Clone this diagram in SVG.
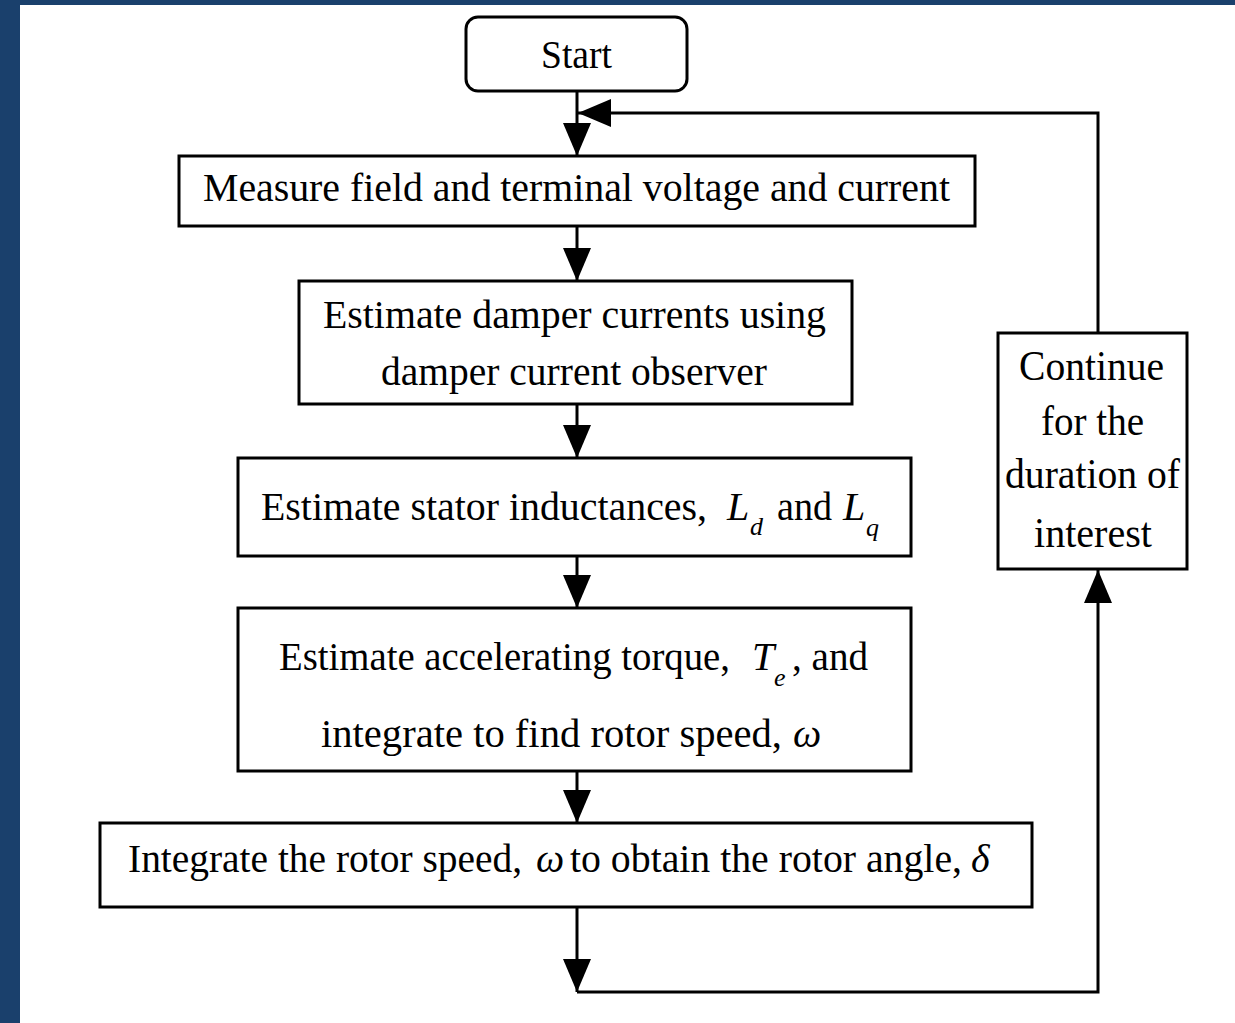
<svg xmlns="http://www.w3.org/2000/svg" width="1235" height="1023" viewBox="0 0 1235 1023">
<style>
.box{fill:#fff;stroke:#000;stroke-width:3}
.t{font-family:"Liberation Serif","Times New Roman",serif;font-size:40px;fill:#000}
.i{font-style:italic}
.s{font-size:26px}
.big{font-size:43px}
.c{fill:none;stroke:#000;stroke-width:3;stroke-linejoin:miter}
</style>
<defs>
<marker id="ah" viewBox="0 0 33 28" markerWidth="33" markerHeight="28" refX="33" refY="14" markerUnits="userSpaceOnUse" orient="auto">
<path d="M0,0 L33,14 L0,28 Z" fill="#000"/>
</marker>
</defs>
<rect x="0" y="0" width="1235" height="1023" fill="#fff"/>
<rect x="0" y="0" width="20" height="1023" fill="#1a406c"/>
<rect x="0" y="0" width="1235" height="5" fill="#1a406c"/>

<g id="connectors">
<path class="c" d="M577,91 V156" marker-end="url(#ah)"/>
<path class="c" d="M577,226 V281" marker-end="url(#ah)"/>
<path class="c" d="M577,404 V458" marker-end="url(#ah)"/>
<path class="c" d="M577,556 V608" marker-end="url(#ah)"/>
<path class="c" d="M577,771 V823" marker-end="url(#ah)"/>
<path class="c" d="M577,907 V992" marker-end="url(#ah)"/>
<path class="c" d="M577,992 H1098 V570" marker-end="url(#ah)"/>
<path class="c" d="M1098,333 V113 H578" marker-end="url(#ah)"/>
</g>

<g id="start">
<rect class="box" x="466" y="17" width="221" height="74" rx="12"/>
<text class="t" x="541" y="68" textLength="71" lengthAdjust="spacingAndGlyphs">Start</text>
</g>

<g id="measure">
<rect class="box" x="179" y="156" width="796" height="70"/>
<text class="t" x="203" y="201" font-size="41" textLength="747" lengthAdjust="spacingAndGlyphs">Measure field and terminal voltage and current</text>
</g>

<g id="damper">
<rect class="box" x="299" y="281" width="553" height="123"/>
<text class="t" x="323" y="328" font-size="41" textLength="503" lengthAdjust="spacingAndGlyphs">Estimate damper currents using</text>
<text class="t" x="381" y="385" font-size="41" textLength="386" lengthAdjust="spacingAndGlyphs">damper current observer</text>
</g>

<g id="inductances">
<rect class="box" x="238" y="458" width="673" height="98"/>
<text class="t"><tspan x="261" y="520" textLength="446" lengthAdjust="spacingAndGlyphs">Estimate stator inductances,</tspan><tspan class="i" x="727" y="520">L</tspan><tspan class="i s" x="750" y="535">d</tspan><tspan x="777" y="520" textLength="55" lengthAdjust="spacingAndGlyphs">and</tspan><tspan class="i" x="843" y="520">L</tspan><tspan class="i s" x="866" y="536">q</tspan></text>
</g>

<g id="torque">
<rect class="box" x="238" y="608" width="673" height="163"/>
<text class="t"><tspan x="279" y="670" textLength="451" lengthAdjust="spacingAndGlyphs">Estimate accelerating torque,</tspan><tspan class="i" x="752" y="670">T</tspan><tspan class="i s" x="774" y="686">e</tspan><tspan x="792" y="670" textLength="76" lengthAdjust="spacingAndGlyphs">, and</tspan></text>
<text class="t"><tspan x="321" y="747" textLength="461" lengthAdjust="spacingAndGlyphs">integrate to find rotor speed,</tspan><tspan class="i" x="793" y="747">ω</tspan></text>
</g>

<g id="angle">
<rect class="box" x="100" y="823" width="932" height="84"/>
<text class="t"><tspan x="128" y="872" textLength="394" lengthAdjust="spacingAndGlyphs">Integrate the rotor speed,</tspan><tspan class="i" x="536" y="872">ω</tspan><tspan x="570" y="872" textLength="392" lengthAdjust="spacingAndGlyphs">to obtain the rotor angle,</tspan><tspan class="i" x="971" y="872">δ</tspan></text>
</g>

<g id="continue">
<rect class="box" x="998" y="333" width="189" height="236"/>
<text class="t big" x="1019" y="380" textLength="145" lengthAdjust="spacingAndGlyphs">Continue</text>
<text class="t big" x="1041" y="435" textLength="103" lengthAdjust="spacingAndGlyphs">for the</text>
<text class="t big" x="1005" y="488" textLength="175" lengthAdjust="spacingAndGlyphs">duration of</text>
<text class="t big" x="1034" y="547" textLength="118" lengthAdjust="spacingAndGlyphs">interest</text>
</g>
</svg>
